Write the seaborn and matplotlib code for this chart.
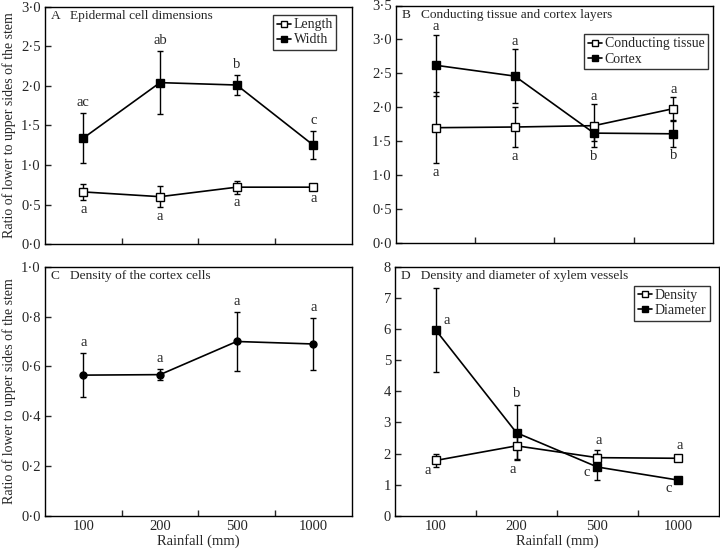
"""
Ratio lower/upper stem sides vs rainfall - 4 panels (A-D)
"""

import numpy as np
import pandas as pd
import matplotlib
matplotlib.use('Agg')
import matplotlib.pyplot as plt
from matplotlib.ticker import FuncFormatter, FixedLocator
import seaborn as sns

# ─────────────────────────────────────────
# DONNÉES
# ─────────────────────────────────────────
rainfall = ["100", "200", "500", "1000"]

# A - Epidermal cell dimensions
a_length = [0.66, 0.60, 0.72, 0.72]
a_length_err = [0.10, 0.13, 0.08, 0.02]
a_width = [1.34, 2.04, 2.01, 1.25]
a_width_err = [0.32, 0.40, 0.13, 0.18]
a_length_letters = ["a", "a", "a", "a"]
a_width_letters = ["ac", "ab", "b", "c"]

# B - Conducting tissue and cortex layers
b_cond = [1.70, 1.71, 1.73, 1.98]
b_cond_err = [0.52, 0.30, 0.32, 0.17]
b_cortex = [2.62, 2.46, 1.62, 1.61]
b_cortex_err = [0.45, 0.40, 0.11, 0.19]
b_top_letters = ["a", "a", "a", "a"]
b_bottom_letters = ["a", "a", "b", "b"]

# C - Density of the cortex cells
c_density = [0.565, 0.567, 0.70, 0.69]
c_density_err = [0.089, 0.022, 0.117, 0.103]
c_letters = ["a", "a", "a", "a"]

# D - Density and diameter of xylem vessels
d_density = [1.78, 2.25, 1.87, 1.85]
d_density_err = [0.20, 0.43, 0.26, 0.10]
d_diameter = [5.97, 2.67, 1.57, 1.15]
d_diameter_err = [1.35, 0.88, 0.42, 0.10]
d_density_letters = ["a", "a", "a", "a"]
d_diameter_letters = ["a", "b", "c", "c"]

# ─────────────────────────────────────────
# STYLE
# ─────────────────────────────────────────
sns.set_style("ticks")
plt.rcParams['font.family'] = ['Liberation Serif', 'DejaVu Serif']
plt.rcParams['font.size'] = 10
plt.rcParams['xtick.direction'] = 'in'
plt.rcParams['ytick.direction'] = 'in'
plt.rcParams['axes.linewidth'] = 1.0
plt.rcParams['axes.edgecolor'] = 'black'

FS = 10.5      # ticks / lettres
FT = 9.6       # titres des panneaux
xpos = np.arange(len(rainfall))
YLABEL = "Ratio of lower to upper sides of the stem"


def dot_fmt(v, _):
    return f"{v:.1f}".replace('.', '·')


def draw_series(ax, vals, errs, filled, label=None, marker='s', ms=6):
    ax.errorbar(xpos, vals, yerr=errs, fmt='none', ecolor='black',
                elinewidth=1.0, capsize=2, capthick=1.0, zorder=2)
    df = pd.DataFrame({"x": xpos, "y": vals})
    sns.lineplot(data=df, x="x", y="y", ax=ax, color='black', lw=1.2,
                 marker=marker, markersize=ms,
                 markerfacecolor='black' if filled else 'white',
                 markeredgecolor='black', markeredgewidth=1.0,
                 label=label, zorder=3, legend=False)


def letters(ax, vals, errs, labs, where, offsets=None, gap=3):
    for i, (v, e, t) in enumerate(zip(vals, errs, labs)):
        if offsets is not None:
            dx, dy = offsets[i]
            ax.annotate(t, (xpos[i], v), xytext=(dx, dy), textcoords='offset points',
                        ha='center', va='center', fontsize=FS)
        elif where == 'above':
            ax.annotate(t, (xpos[i], v + e), xytext=(0, gap), textcoords='offset points',
                        ha='center', va='bottom', fontsize=FS)
        else:
            ax.annotate(t, (xpos[i], v - e), xytext=(0, -2), textcoords='offset points',
                        ha='center', va='top', fontsize=FS)


def setup(ax, ylim, yticks, title, xlabels=True, fmt=dot_fmt):
    ax.set_xlim(-0.5, 3.5)
    ax.set_ylim(*ylim)
    ax.set_yticks(yticks)
    ax.yaxis.set_major_formatter(FuncFormatter(fmt))
    # ticks entre les catégories, étiquettes au centre
    ax.xaxis.set_major_locator(FixedLocator([0.5, 1.5, 2.5]))
    ax.xaxis.set_minor_locator(FixedLocator(xpos))
    ax.set_xticklabels([])
    ax.tick_params(axis='x', which='major', length=4, width=1)
    ax.tick_params(axis='x', which='minor', length=0, labelsize=FS, pad=3)
    ax.tick_params(axis='y', length=4, width=1, labelsize=FS, pad=3)
    if xlabels:
        ax.set_xticklabels(rainfall, minor=True)
        ax.set_xlabel("Rainfall (mm)", fontsize=FS, labelpad=1)
    else:
        ax.set_xlabel("")
    ax.set_ylabel("")
    for s in ax.spines.values():
        s.set_visible(True)
        s.set_color('black')
    ax.text(0.018, 0.985, title, transform=ax.transAxes, va='top', ha='left',
            fontsize=FT)


def legend(ax, anchor):
    leg = ax.legend(loc='upper right', bbox_to_anchor=anchor, fontsize=10,
                    frameon=True, fancybox=False, edgecolor='black',
                    handlelength=1.0, handletextpad=0.2, borderpad=0.25,
                    labelspacing=0.15, borderaxespad=0)
    leg.get_frame().set_linewidth(1.0)
    for h in leg.legend_handles:
        h.set_markersize(5)


fig = plt.figure(figsize=(7.2, 5.5), dpi=100)
axA = fig.add_axes([0.0625, 0.556, 0.426, 0.432])
axB = fig.add_axes([0.550, 0.558, 0.440, 0.432])
axC = fig.add_axes([0.0625, 0.062, 0.426, 0.453])
axD = fig.add_axes([0.549, 0.062, 0.449, 0.453])

# --- A ---
draw_series(axA, a_length, a_length_err, False, "Length")
draw_series(axA, a_width, a_width_err, True, "Width")
setup(axA, (0, 3.0), np.arange(0, 3.01, 0.5), "A   Epidermal cell dimensions", xlabels=False)
letters(axA, a_width, a_width_err, a_width_letters, 'above')
letters(axA, a_length, a_length_err, a_length_letters, 'below')
legend(axA, (0.95, 0.965))

# --- B ---
draw_series(axB, b_cond, b_cond_err, False, "Conducting tissue")
draw_series(axB, b_cortex, b_cortex_err, True, "Cortex")
setup(axB, (0, 3.5), np.arange(0, 3.51, 0.5), "B   Conducting tissue and cortex layers", xlabels=False)
b_top = [max(c + ce, k + ke) for c, ce, k, ke in zip(b_cond, b_cond_err, b_cortex, b_cortex_err)]
b_bot = [min(c - ce, k - ke) for c, ce, k, ke in zip(b_cond, b_cond_err, b_cortex, b_cortex_err)]
letters(axB, b_top, [0] * 4, b_top_letters, 'above', gap=1)
letters(axB, b_bot, [0] * 4, b_bottom_letters, 'below')
legend(axB, (0.984, 0.88))

# --- C ---
draw_series(axC, c_density, c_density_err, True, None, marker='o', ms=5)
setup(axC, (0, 1.0), np.arange(0, 1.01, 0.2), "C   Density of the cortex cells")
letters(axC, c_density, c_density_err, c_letters, 'above')

# --- D ---
draw_series(axD, d_density, d_density_err, False, "Density")
draw_series(axD, d_diameter, d_diameter_err, True, "Diameter")
setup(axD, (0, 8), np.arange(0, 9, 1), "D   Density and diameter of xylem vessels",
      fmt=lambda v, _: f"{v:.0f}")
letters(axD, d_diameter, d_diameter_err, d_diameter_letters, None,
        offsets=[(8, 7), (0, 28), (-8, -4), (-7, -6)])
letters(axD, d_density, d_density_err, d_density_letters, None,
        offsets=[(-6, -7), (-3, -17), (1, 12), (1, 9)])
legend(axD, (0.972, 0.924))

axA.set_ylabel(YLABEL, fontsize=10, labelpad=4)
axC.set_ylabel(YLABEL, fontsize=10, labelpad=4)

plt.savefig("out.png", dpi=100)
plt.close()
